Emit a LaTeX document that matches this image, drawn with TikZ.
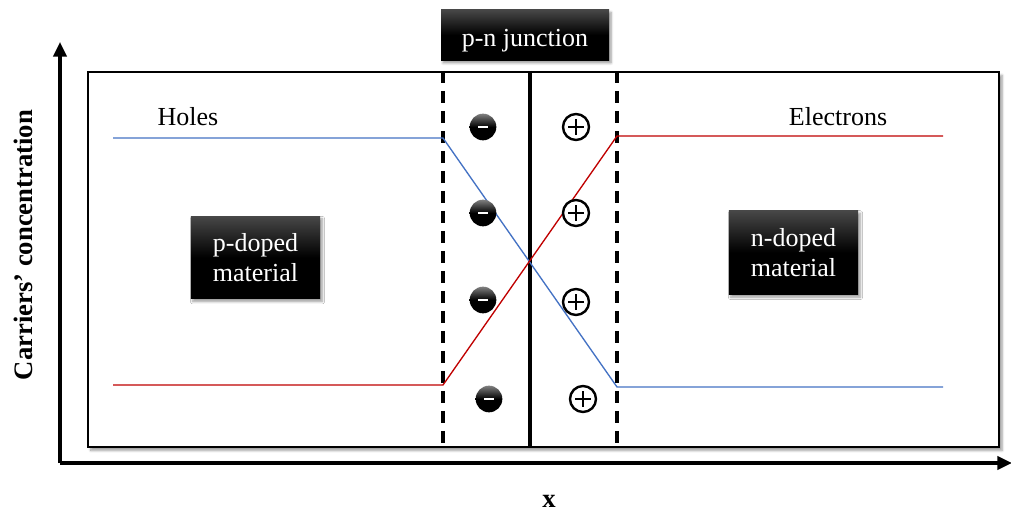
\documentclass[tikz,border=0pt]{standalone}
\usepackage{fontspec}
\setmainfont{Liberation Serif}
\usetikzlibrary{arrows.meta,shadows.blur}
\definecolor{holeblue}{HTML}{4472C4}
\definecolor{elecred}{HTML}{C00000}
\tikzset{
  lbl/.style={font=\fontsize{19.5}{22}\selectfont},
  darkbox/.style={lbl, text=white, align=center, inner sep=0pt,
    top color=black!72, bottom color=black, middle color=black,
    blur shadow={shadow xshift=1.5pt, shadow yshift=-2pt, shadow blur steps=6}},
  frameline/.style={draw=black, fill=white, line width=1.6pt,
    blur shadow={shadow xshift=2pt, shadow yshift=-2.5pt, shadow blur steps=6}},
  axisline/.style={line width=2.3pt, -{Triangle[length=11pt,width=10pt]}},
  depedge/.style={line width=2.3pt, dash pattern=on 9pt off 6pt},
  profile/.style={line width=1pt},
  negcharge/.style={circle, minimum size=20pt, inner sep=0pt,
    top color=black!50, bottom color=black, middle color=black},
  poscharge/.style={circle, draw=black, line width=1.8pt, fill=white,
    minimum size=19.5pt, inner sep=0pt}
}
\begin{document}
\begin{tikzpicture}[x=0.75pt, y=-0.75pt]
\useasboundingbox (0,0) rectangle (1011,513);

% outer frame of the device
\node[frameline, minimum width=683.5pt, minimum height=281.25pt, inner sep=0pt, anchor=north west] (frame) at (87,71) {};

% axes
\coordinate (origin) at (60,463);
\coordinate (ytop) at (60,42);
\coordinate (xend) at (1012,463);
\draw[axisline] (origin) -- (ytop);
\draw[axisline] (origin) -- (xend);

% depletion region boundaries and junction plane
\coordinate (dlt) at (443,71);  \coordinate (dlb) at (443,446);
\coordinate (drt) at (617,71);  \coordinate (drb) at (617,446);
\coordinate (jt) at (530,71);   \coordinate (jb) at (530,446);
\draw[depedge] (dlt) -- (dlb);
\draw[depedge] (drt) -- (drb);
\draw[line width=2.3pt] (jt) -- (jb);

% carrier profiles
\coordinate (h0) at (113,138); \coordinate (h1) at (443,138);
\coordinate (h2) at (617,387); \coordinate (h3) at (943,387);
\coordinate (e0) at (113,385); \coordinate (e1) at (443,385);
\coordinate (e2) at (617,136); \coordinate (e3) at (943,136);
\draw[profile, holeblue] (h0) -- (h1) -- (h2) -- (h3);
\draw[profile, elecred] (e0) -- (e1) -- (e2) -- (e3);

% fixed ionic charges: acceptors (left) and donors (right)
\foreach \n/\x/\y in {n1/483/127, n2/483/213, n3/483/300, n4/489/399}{
  \node[negcharge] (\n) at (\x,\y) {};
  \fill[white] ([xshift=-3.6pt,yshift=-1.1pt]\n.center) rectangle ([xshift=3.6pt,yshift=1.1pt]\n.center);
}
\foreach \p/\x/\y in {p1/576/127, p2/576/213, p3/576/302, p4/583/399}{
  \node[poscharge] (\p) at (\x,\y) {};
  \draw[line width=0.8pt] ([xshift=-5.8pt]\p.center) -- ([xshift=5.8pt]\p.center);
  \draw[line width=0.8pt] ([yshift=-5.8pt]\p.center) -- ([yshift=5.8pt]\p.center);
}

% labels
\node[darkbox, minimum width=126pt, minimum height=38pt, text height=17pt, text depth=0pt] (junc) at (525,35) {p-n junction};
\node[darkbox, minimum width=97pt, minimum height=62pt] (pmat) at (255.5,257.5) {p-doped\\material};
\node[darkbox, minimum width=97pt, minimum height=63pt] (nmat) at (793.5,252.5) {n-doped\\material};
\node[lbl] (holes) at (188,117) {Holes};
\node[lbl] (elec) at (838,117) {Electrons};
\node[font=\bfseries\fontsize{20}{23}\selectfont, rotate=90] (ylab) at (23,245) {Carriers’ concentration};
\node[font=\bfseries\fontsize{20}{23}\selectfont] (xlab) at (549,501) {x};
\end{tikzpicture}
\end{document}
